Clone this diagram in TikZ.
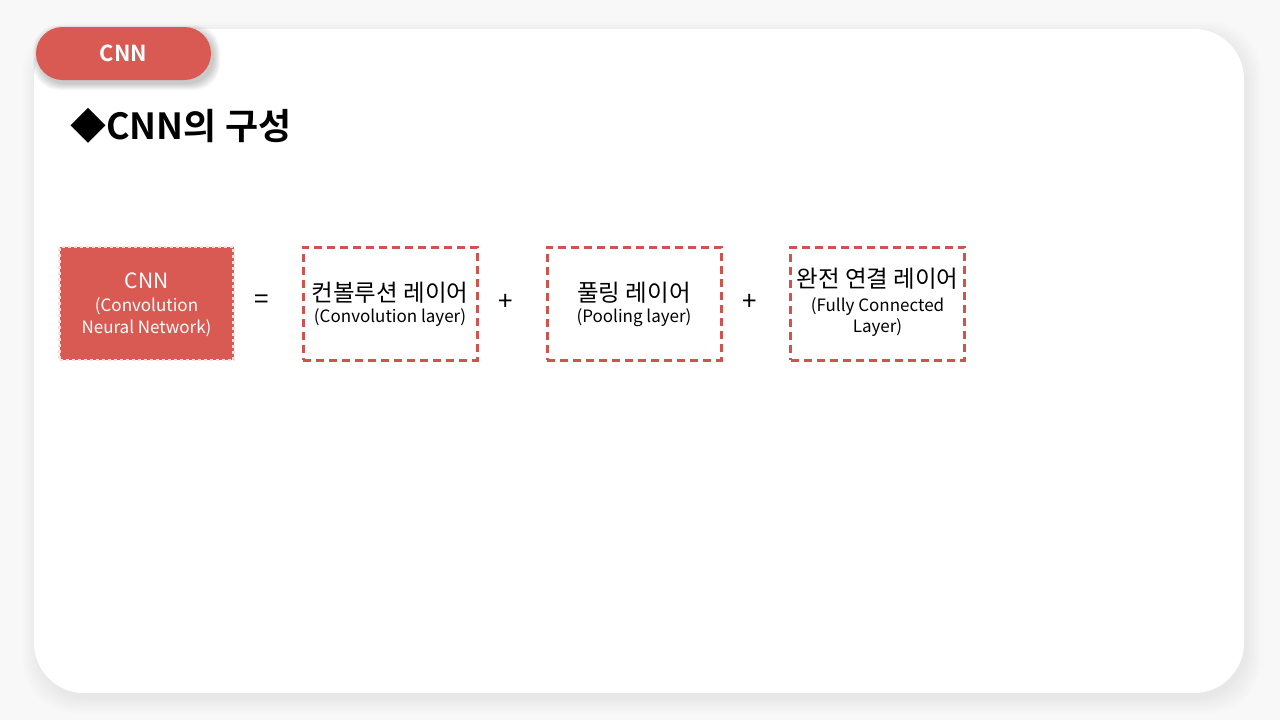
\documentclass[tikz,border=0pt]{standalone}
\usepackage{fontspec}
\setmainfont{Noto Sans CJK KR}
\newfontfamily\krb{Noto Sans CJK KR Bold}
\usetikzlibrary{calc}
\definecolor{bgc}{HTML}{F8F8F8}
\definecolor{redc}{HTML}{D95A52}
\definecolor{dashc}{HTML}{D0534D}
\tikzset{
  layerbox/.style={draw=dashc, line width=3pt, dash pattern=on 8pt off 5pt, minimum width=174pt, minimum height=113pt, inner sep=0pt, align=center},
  mainbox/.style={fill=redc, draw=white!80!redc, line width=2.4pt, dash pattern=on 3pt off 3pt, minimum width=174pt, minimum height=113pt, inner sep=0pt, align=center, text=white},
  opsym/.style={font=\fontsize{26}{26}\selectfont},
  big/.style={font=\fontsize{23.5}{27}\selectfont},
  small/.style={font=\fontsize{17}{21.5}\selectfont}
}
\begin{document}
\begin{tikzpicture}[x=1pt,y=-1pt]
\useasboundingbox (0,0) rectangle (1280,720);
\fill[bgc] (0,0) rectangle (1280,720);
% card shadow
\foreach \i in {14,12,...,0}{
  \fill[black,opacity=0.008,rounded corners=52pt] (34-\i+3,29-\i+6) rectangle (1244+\i+3,693+\i+6);
}
\fill[white,rounded corners=50pt] (34,29) rectangle (1244,693);
% tab
\foreach \i in {6,5,...,0}{
  \fill[black,opacity=0.03,rounded corners=26pt] (36-\i+3,27-\i+4) rectangle (211+\i+3,80+\i+4);
}
\fill[redc,rounded corners=26.5pt] (36,27) rectangle (211,80);
\node[text=white,font=\krb\fontsize{22}{22}\selectfont] (tab) at (123.5,53) {CNN};
% title
\node[anchor=west,font=\krb\fontsize{36}{36}\selectfont,inner sep=0pt] (title) at (70,126) {◆CNN의 구성};
% boxes
\node[mainbox] (cnn) at (146.5,303.5) {};
\node[text=white,font=\fontsize{21}{21}\selectfont] (cnnt) at (146.5,281) {CNN};
\node[text=white,small,align=center] (cnns) at (146.5,317) {(Convolution\\Neural Network)};
\node[opsym] (eq) at (262,302) {=};
\node[layerbox] (conv) at (390,303.5) {};
\node[big] (convt) at (390,293) {컨볼루션 레이어};
\node[small] (convs) at (390,318) {(Convolution layer)};
\node[opsym] (p1) at (506,302) {+};
\node[layerbox] (pool) at (634,303.5) {};
\node[big] (poolt) at (634,293) {풀링 레이어};
\node[small] (pools) at (634,318) {(Pooling layer)};
\node[opsym] (p2) at (750,302) {+};
\node[layerbox] (fc) at (877.5,303.5) {};
\node[big] (fct) at (877.5,279) {완전 연결 레이어};
\node[small,align=center] (fcs) at (877.5,317) {(Fully Connected\\Layer)};
\end{tikzpicture}
\end{document}
